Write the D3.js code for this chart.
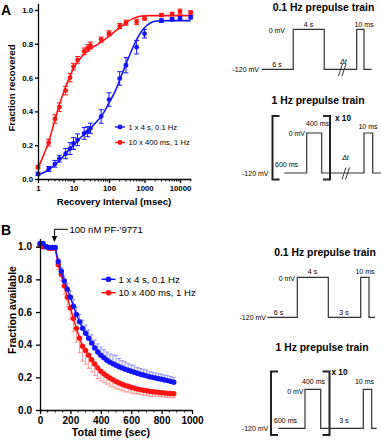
<!DOCTYPE html>
<html><head><meta charset="utf-8">
<script src="https://cdn.jsdelivr.net/npm/d3@7/dist/d3.min.js"></script>
<style>
html,body{margin:0;padding:0;background:#fff;}
svg{display:block;font-family:"Liberation Sans",Arial,sans-serif;}
</style></head><body>
<svg id="c" width="381" height="440"></svg>
<script>
// ---------- Panel A data ----------
const intervalsA = [1,2,3,4,6,8,10,13,20,25,30,60,100,200,300,600,1000,3000,6000,10000,20000];
const recBlue    = [0.03,0.059,0.09,0.12,0.15,0.18,0.21,0.232,0.27,0.28,0.30,0.37,0.47,0.595,0.673,0.78,0.86,0.937,0.945,0.95,0.957];
const recBlueErr = [0.01,0.015,0.02,0.02,0.03,0.035,0.035,0.035,0.035,0.03,0.03,0.04,0.04,0.04,0.045,0.04,0.025,0.01,0.01,0.01,0.01];
const recRed     = [0.07,0.215,0.355,0.425,0.523,0.60,0.665,0.705,0.755,0.775,0.79,0.825,0.862,0.905,0.925,0.93,0.95,0.97,0.976,0.99,0.985];
const recRedErr  = [0.01,0.02,0.025,0.025,0.025,0.025,0.02,0.02,0.02,0.02,0.02,0.015,0.015,0.015,0.015,0.015,0.01,0.01,0.01,0.015,0.01];
const fitXA   = [1,1.5,2,3,4,5,6,8,10,15,20,30,50,70,100,150,200,300,500,700,1000,1500,2000,3000,5000,10000,20000];
const fitRed  = [0.065,0.15,0.22,0.35,0.44,0.50,0.545,0.61,0.655,0.71,0.74,0.77,0.80,0.82,0.845,0.875,0.895,0.925,0.952,0.962,0.966,0.967,0.967,0.967,0.967,0.967,0.967];
const fitBlue = [0.025,0.04,0.055,0.085,0.11,0.13,0.15,0.18,0.20,0.24,0.265,0.30,0.35,0.39,0.45,0.52,0.585,0.68,0.79,0.85,0.895,0.925,0.933,0.936,0.937,0.937,0.937];
const seriesNames = ["1 x 4 s, 0.1 Hz", "10 x 400 ms, 1 Hz"];
const seriesColors = ["#1414ff", "#ff1414"];
const errColors = ["#8c8cff", "#ff8c8c"];
const tickAx = [1,10,100,1000,10000];
const tickAy = [0,0.2,0.4,0.6,0.8,1.0];

// ---------- Panel B data ----------
const timeB = [0,20,40,60,80,100,120,140,160,180,200,220,240,260,280,300,320,340,360,380,400,420,440,460,480,500,520,540,560,580,600,620,640,660,680,700,720,740,760,780,800,820,840,860,880];
const availBlue = [1.02,1.02,1.00,0.995,0.995,0.995,0.91,0.85,0.79,0.74,0.69,0.635,0.585,0.54,0.50,0.47,0.44,0.41,0.38,0.355,0.335,0.32,0.305,0.293,0.283,0.274,0.265,0.257,0.25,0.243,0.237,0.231,0.225,0.219,0.214,0.209,0.204,0.20,0.196,0.192,0.188,0.184,0.18,0.175,0.17];
const availBlueErr = [0.01,0.01,0.01,0.01,0.01,0.01,0.02,0.025,0.03,0.035,0.04,0.04,0.045,0.045,0.05,0.05,0.05,0.05,0.05,0.05,0.05,0.05,0.05,0.05,0.055,0.06,0.05,0.045,0.045,0.04,0.04,0.04,0.035,0.035,0.035,0.035,0.03,0.03,0.03,0.03,0.03,0.03,0.03,0.03,0.03];
const availRed = [1.01,1.00,1.00,0.99,0.99,0.99,0.89,0.83,0.76,0.69,0.625,0.56,0.50,0.44,0.39,0.365,0.335,0.308,0.282,0.258,0.238,0.222,0.208,0.196,0.185,0.175,0.166,0.158,0.151,0.145,0.139,0.134,0.129,0.125,0.121,0.118,0.115,0.112,0.11,0.108,0.106,0.104,0.102,0.101,0.10];
const availRedErr = [0.01,0.01,0.01,0.01,0.01,0.01,0.03,0.04,0.05,0.06,0.07,0.08,0.085,0.09,0.09,0.085,0.08,0.075,0.07,0.065,0.06,0.055,0.05,0.05,0.045,0.045,0.04,0.04,0.04,0.035,0.035,0.035,0.03,0.03,0.03,0.03,0.03,0.03,0.025,0.025,0.025,0.025,0.025,0.025,0.025];
const tickBx = [0,200,400,600,800,1000];
const tickBy = [0,0.2,0.4,0.6,0.8,1.0];
const drugLabel = "100 nM PF-'9771";
const drugTime = 95;

// ---------- Protocol schematics (schematic time units, mV) ----------
const proto01 = [[0,-120],[31.5,-120],[31.5,0],[62.5,0],[62.5,-120],[95,-120],[95,0],[102.3,0],[102.3,-120],[110,-120]];
const proto1  = [[0,-120],[22.4,-120],[22.4,0],[37.4,0],[37.4,-120],[79.7,-120],[79.7,0],[88.4,0],[88.4,-120],[97,-120]];
const proto01b = [[0,-120],[30,-120],[30,0],[61,0],[61,-120],[93.4,-120],[93.4,0],[101.7,0],[101.7,-120],[107.7,-120]];
const proto1b  = [[0,-120],[26.7,-120],[26.7,0],[42.4,0],[42.4,-120],[85,-120],[85,0],[93.4,0],[93.4,-120],[98.4,-120]];

const svg = d3.select("#c");
const FONT = '"Liberation Sans",Arial,sans-serif';

// ================= Panel A =================
const xA = d3.scaleLog().domain([1,20000]).range([38, 38+35.5*Math.log10(20000)]);
const yA = d3.scaleLinear().domain([0,1.04]).range([179, 179-169*1.04]);
const gA = svg.append("g");

// fits
const fitLine = d3.line().x(d=>xA(d[0])).y(d=>yA(d[1])).curve(d3.curveMonotoneX);
gA.append("path").datum(fitXA.map((x,i)=>[x,fitBlue[i]])).attr("d",fitLine)
  .attr("fill","none").attr("stroke",seriesColors[0]).attr("stroke-width",1.6);
gA.append("path").datum(fitXA.map((x,i)=>[x,fitRed[i]])).attr("d",fitLine)
  .attr("fill","none").attr("stroke",seriesColors[1]).attr("stroke-width",1.6);

function drawErrPoints(g, xs, ys, es, color, xs_, ys_, cap, r){
  xs.forEach((x,i)=>{
    const cx = xs_(x), y0 = ys_(ys[i]-es[i]), y1 = ys_(ys[i]+es[i]);
    g.append("line").attr("x1",cx).attr("x2",cx).attr("y1",y0).attr("y2",y1).attr("stroke",color).attr("stroke-width",1);
    g.append("line").attr("x1",cx-cap).attr("x2",cx+cap).attr("y1",y0).attr("y2",y0).attr("stroke",color).attr("stroke-width",1);
    g.append("line").attr("x1",cx-cap).attr("x2",cx+cap).attr("y1",y1).attr("y2",y1).attr("stroke",color).attr("stroke-width",1);
  });
  g.selectAll(null).data(xs).enter().append("circle")
    .attr("cx",d=>xs_(d)).attr("cy",(d,i)=>ys_(ys[i])).attr("r",r).attr("fill",color);
}
drawErrPoints(gA, intervalsA, recBlue, recBlueErr, seriesColors[0], xA, yA, 2.5, 2.4);
drawErrPoints(gA, intervalsA, recRed, recRedErr, seriesColors[1], xA, yA, 2.5, 2.4);

// axes A
const axAy = gA.append("g").attr("transform","translate(38,0)")
  .call(d3.axisLeft(yA).tickValues(tickAy).tickFormat(d3.format(".1f")).tickSize(3).tickPadding(2).tickSizeOuter(0));
const axAx = gA.append("g").attr("transform","translate(0,179)")
  .call(d3.axisBottom(xA).tickValues(tickAx).tickFormat(d3.format("d")).tickSize(4).tickPadding(2).tickSizeOuter(0));
const minorA = [];
tickAx.forEach(d=>{ for(let k=2;k<=9;k++){ if(d*k<=20000) minorA.push(d*k);} });
gA.append("g").selectAll("line").data(minorA).enter().append("line")
  .attr("x1",d=>xA(d)).attr("x2",d=>xA(d)).attr("y1",179).attr("y2",181.5).attr("stroke","#000").attr("stroke-width",1);
[axAy,axAx].forEach(a=>{
  a.selectAll("path,line").attr("stroke","#000").attr("stroke-width",1.3);
  a.selectAll("text").attr("font-family",FONT).attr("font-weight","bold").attr("font-size",7.8).attr("fill","#000");
});
gA.append("text").attr("x",114).attr("y",205).attr("text-anchor","middle")
  .attr("font-weight","bold").attr("font-size",9.7).text("Recovery Interval (msec)");
gA.append("text").attr("transform","translate(15,88) rotate(-90)").attr("text-anchor","middle")
  .attr("font-weight","bold").attr("font-size",9.7).text("Fraction recovered");
svg.append("text").attr("x",1).attr("y",15).attr("font-weight","bold").attr("font-size",14).text("A");

// legend A
[127,142.5].forEach((yy,i)=>{
  gA.append("line").attr("x1",115).attr("x2",125).attr("y1",yy).attr("y2",yy).attr("stroke",seriesColors[i]).attr("stroke-width",1.4);
  gA.append("circle").attr("cx",120).attr("cy",yy).attr("r",2.4).attr("fill",seriesColors[i]);
  gA.append("text").attr("x",128.5).attr("y",yy+2.7).attr("font-size",7.6).text(seriesNames[i]);
});

// ================= Panel B =================
const xB = d3.scaleLinear().domain([0,1000]).range([40,192]);
const yB = d3.scaleLinear().domain([0,1.05]).range([410, 410-163.3*1.05]);
const gB = svg.append("g");

function drawOneSided(g, xs, ys, es, dir, color){
  xs.forEach((x,i)=>{
    const cx = xB(x), y0 = yB(ys[i]), y1 = yB(ys[i]+dir*es[i]);
    g.append("line").attr("x1",cx).attr("x2",cx).attr("y1",y0).attr("y2",y1).attr("stroke",color).attr("stroke-width",0.9);
    g.append("line").attr("x1",cx-2).attr("x2",cx+2).attr("y1",y1).attr("y2",y1).attr("stroke",color).attr("stroke-width",0.9);
  });
}
drawOneSided(gB, timeB, availRed, availRedErr, -1, errColors[1]);
drawOneSided(gB, timeB, availBlue, availBlueErr, 1, errColors[0]);

const lineB = d3.line().x(d=>xB(d[0])).y(d=>yB(d[1]));
[[availRed,1],[availBlue,0]].forEach(([vals,ci])=>{
  gB.append("path").datum(timeB.map((t,i)=>[t,vals[i]])).attr("d",lineB)
    .attr("fill","none").attr("stroke",seriesColors[ci]).attr("stroke-width",1.5);
  gB.selectAll(null).data(timeB).enter().append("circle")
    .attr("cx",d=>xB(d)).attr("cy",(d,i)=>yB(vals[i])).attr("r",2.7).attr("fill",seriesColors[ci]);
});

const axBy = gB.append("g").attr("transform","translate(40,0)")
  .call(d3.axisLeft(yB).tickValues(tickBy).tickFormat(d3.format(".1f")).tickSize(4).tickPadding(4).tickSizeOuter(0));
const axBx = gB.append("g").attr("transform","translate(0,410)")
  .call(d3.axisBottom(xB).tickValues(tickBx).tickFormat(d3.format("d")).tickSize(4).tickPadding(3).tickSizeOuter(0));
const minorB = [];
for(let i=0;i<tickBx.length-1;i++){ [50,100,150].forEach(o=>minorB.push(tickBx[i]+o)); }
gB.append("g").selectAll("line").data(minorB).enter().append("line")
  .attr("x1",d=>xB(d)).attr("x2",d=>xB(d)).attr("y1",410).attr("y2",412.5).attr("stroke","#000").attr("stroke-width",1);
[axBy,axBx].forEach(a=>{
  a.selectAll("path,line").attr("stroke","#000").attr("stroke-width",1.3);
  a.selectAll("text").attr("font-family",FONT).attr("font-weight","bold").attr("font-size",10).attr("fill","#000");
});
gB.append("text").attr("x",111).attr("y",435.5).attr("text-anchor","middle")
  .attr("font-weight","bold").attr("font-size",10.8).text("Total time (sec)");
gB.append("text").attr("transform","translate(15.5,310) rotate(-90)").attr("text-anchor","middle")
  .attr("font-weight","bold").attr("font-size",10.4).text("Fraction available");
svg.append("text").attr("x",1).attr("y",235).attr("font-weight","bold").attr("font-size",14).text("B");

// drug annotation
const ax0 = xB(drugTime);
gB.append("path").attr("d",`M${ax0+13.5},229.3 H${ax0} V236`).attr("fill","none").attr("stroke","#000").attr("stroke-width",1);
gB.append("path").attr("d",`M${ax0-2.8},236 L${ax0+2.8},236 L${ax0},242 Z`).attr("fill","#000");
gB.append("text").attr("x",ax0+15).attr("y",232.8).attr("font-size",9.6).text(drugLabel);

// legend B
[279.3,292.7].forEach((yy,i)=>{
  gB.append("line").attr("x1",101.5).attr("x2",115.5).attr("y1",yy).attr("y2",yy).attr("stroke",seriesColors[i]).attr("stroke-width",1.5);
  gB.append("circle").attr("cx",108.5).attr("cy",yy).attr("r",2.8).attr("fill",seriesColors[i]);
  gB.append("text").attr("x",118.5).attr("y",yy+3.4).attr("font-size",9.6).text(seriesNames[i]);
});

// ================= Protocol schematics =================
const gP = svg.append("g").attr("font-family",FONT);
function schematic(pts, x0, yBase, yTop){
  const sx = d3.scaleLinear().domain([0,1]).range([x0,x0+1]);
  const sv = d3.scaleLinear().domain([-120,0]).range([yBase,yTop]);
  gP.append("path").datum(pts).attr("d",d3.line().x(d=>sx(d[0])).y(d=>sv(d[1])))
    .attr("fill","none").attr("stroke","#333").attr("stroke-width",1.2);
  return {sx, sv};
}
function label(x,y,txt,anchor,size,weight,style){
  const t = gP.append("text").attr("x",x).attr("y",y).attr("text-anchor",anchor||"middle")
    .attr("font-size",size||7).text(txt);
  if(weight) t.attr("font-weight",weight);
  if(style) t.attr("font-style",style);
  return t;
}
function slashes(x,y){
  [0,3.5].forEach(o=>gP.append("line").attr("x1",x+o).attr("y1",y+6).attr("x2",x+o+4).attr("y2",y-6)
    .attr("stroke","#333").attr("stroke-width",1));
}
function bracket(xl,xr,y0,y1){
  gP.append("path").attr("d",`M${xl+7},${y0} H${xl} V${y1} H${xl+7}`).attr("fill","none").attr("stroke","#222").attr("stroke-width",2);
  gP.append("path").attr("d",`M${xr-7},${y0} H${xr} V${y1} H${xr-7}`).attr("fill","none").attr("stroke","#222").attr("stroke-width",2);
}

// top: 0.1 Hz
label(323.5,11,"0.1 Hz prepulse train","middle",10.4,"bold");
schematic(proto01, 261.7, 69.3, 29.3);
label(285,32.5,"0 mV","end");
label(259,71.8,"-120 mV","end");
label(308.5,27,"4 s");
label(277,66.5,"6 s");
label(343.5,63.5,"\u0394t","middle",7,null,"italic");
label(364,27,"10 ms");
slashes(338.5,70);

// top: 1 Hz
label(318,104,"1 Hz prepulse train","middle",10.4,"bold");
bracket(272.5,330,116,179.5);
schematic(proto1, 284.3, 173, 133);
label(305,136,"0 mV","end");
label(268.5,175.5,"-120 mV","end");
label(317.5,126,"400 ms");
label(286.5,167,"600 ms");
label(345.5,160,"\u0394t","middle",7,null,"italic");
label(368,129,"10 ms");
label(335,121,"x 10","start",8.2,"bold");
slashes(342,173.5);

// bottom: 0.1 Hz
label(325,256,"0.1 Hz prepulse train","middle",10.4,"bold");
schematic(proto01b, 267.3, 317.3, 277.3);
label(295,280.5,"0 mV","end");
label(266,319.8,"-120 mV","end");
label(312.5,274,"4 s");
label(278.5,315,"6 s");
label(344,315,"3 s");
label(365,274,"10 ms");

// bottom: 1 Hz
label(322,351,"1 Hz prepulse train","middle",10.4,"bold");
bracket(271,329.5,371.5,435);
schematic(proto1b, 278.3, 428.3, 389.3);
label(303.5,393.5,"0 mV","end");
label(268.3,431,"-120 mV","end");
label(313.5,384,"400 ms");
label(285.5,423.3,"600 ms");
label(344,423.3,"3 s");
label(364.5,384,"10 ms");
label(331.5,374.5,"x 10","start",8.2,"bold");
</script>
</body></html>
